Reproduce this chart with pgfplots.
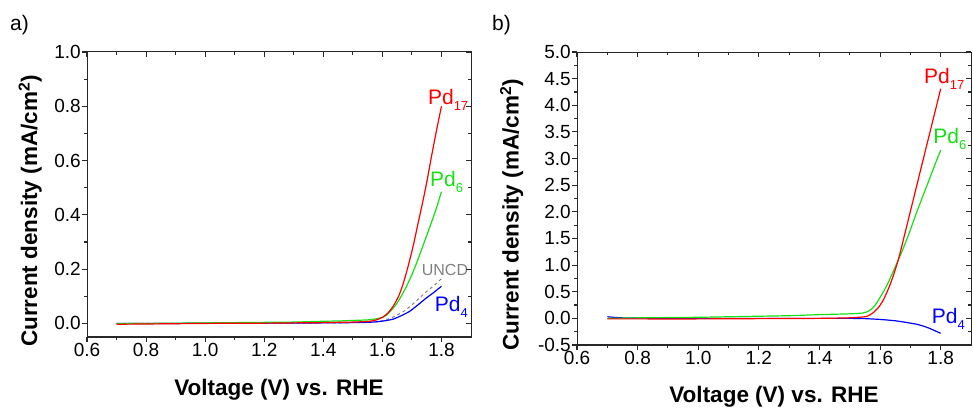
\documentclass[border=0pt]{standalone}
\usepackage{fontspec}
\setmainfont{Liberation Sans}
\usepackage{pgfplots}
\pgfplotsset{compat=1.18}

\definecolor{pdred}{RGB}{255,0,0}
\definecolor{pdgreen}{RGB}{20,225,20}
\definecolor{pdblue}{RGB}{0,0,255}
\definecolor{uncdgray}{RGB}{128,128,128}
\definecolor{frame}{RGB}{40,40,40}

\pgfplotsset{
  ivbase/.style={
    scale only axis, clip=false,
    xmin=0.6, xmax=1.9,
    xtick={0.6,0.8,1.0,1.2,1.4,1.6,1.8},
    minor x tick num=1, minor y tick num=1,
    major tick length=5pt, minor tick length=3pt,
    axis line style={line width=1pt, frame},
    every tick/.style={line width=1.1pt, frame},
    tick label style={font=\fontsize{19}{19}\selectfont},
    /pgf/number format/.cd, fixed, fixed zerofill, precision=1, assume math mode=true,
  },
  ivmain/.style={
    ivbase, tick align=outside, xtick pos=left, ytick pos=left,
    xticklabel style={inner sep=1pt},
    yticklabel style={inner sep=1pt},
    label style={font=\bfseries\fontsize{22.5}{22.5}\selectfont},
    xlabel={Voltage (V) vs. RHE},
    ylabel={Current density (mA/cm\textsuperscript{2})},
    every axis plot/.append style={line width=1.2pt, smooth, tension=0.3},
  },
  ivmirror/.style={
    ivbase, tick align=inside, xtick pos=right, ytick pos=right,
    xticklabels={}, yticklabels={},
  },
}
\tikzset{pdlab/.style={anchor=base west, inner sep=0pt, font=\fontsize{21}{21}\selectfont}}
\newcommand{\sub}[1]{\raisebox{-6pt}{\fontsize{13}{13}\selectfont #1}}

\begin{document}
\begin{tikzpicture}

% ---- a) ----
\begin{axis}[ivmain,
  at={(87pt,75pt)}, anchor=south west, width=384pt, height=285pt,
  ymin=-0.05, ymax=1.0, ytick={0,0.2,0.4,0.6,0.8,1.0},
  xlabel style={at={(axis description cs:0.5,-0.186)}, anchor=center},
  ylabel style={at={(axis description cs:-0.148,0.442)}, anchor=center},
]
% UNCD
\addplot[uncdgray, dashed, line width=1pt] coordinates {
  (0.70,0.000) (0.90,0.000) (1.10,0.001) (1.30,0.001) (1.50,0.003) (1.58,0.006)
  (1.61,0.013) (1.64,0.025) (1.67,0.043) (1.693,0.062) (1.72,0.088)
  (1.749,0.117) (1.775,0.140) (1.80,0.165)};
% Pd4
\addplot[pdblue] coordinates {
  (0.70,0.000) (0.90,0.000) (1.00,0.001) (1.20,0.001) (1.40,0.002) (1.50,0.003)
  (1.55,0.004) (1.58,0.006) (1.61,0.010) (1.637,0.016) (1.665,0.029)
  (1.693,0.045) (1.72,0.068) (1.749,0.094) (1.775,0.115) (1.80,0.137)};
% Pd6
\addplot[pdgreen] coordinates {
  (0.70,-0.001) (0.80,0.000) (0.90,0.001) (1.00,0.002) (1.10,0.003) (1.20,0.004)
  (1.30,0.005) (1.40,0.008) (1.45,0.009) (1.50,0.011) (1.55,0.013) (1.58,0.017)
  (1.597,0.022) (1.614,0.030) (1.63,0.048) (1.648,0.072) (1.665,0.103)
  (1.682,0.137) (1.70,0.180) (1.716,0.223) (1.732,0.270) (1.749,0.321)
  (1.766,0.372) (1.783,0.425) (1.80,0.485)};
% Pd17
\addplot[pdred] coordinates {
  (0.70,-0.003) (0.80,-0.002) (0.90,-0.001) (1.00,0.000) (1.10,0.001) (1.20,0.001)
  (1.30,0.002) (1.40,0.003) (1.45,0.004) (1.50,0.005) (1.55,0.007) (1.569,0.010)
  (1.585,0.015) (1.603,0.024) (1.62,0.040) (1.637,0.064) (1.655,0.100)
  (1.670,0.145) (1.687,0.210) (1.704,0.284) (1.72,0.365) (1.738,0.455)
  (1.752,0.530) (1.766,0.614) (1.783,0.710) (1.80,0.800)};
\node[pdlab, pdred] at (axis cs:1.754,0.808) {Pd\sub{17}};
\node[pdlab, pdgreen] at (axis cs:1.761,0.503) {Pd\sub{6}};
\node[anchor=base west, inner sep=0pt, uncdgray, font=\fontsize{16}{16}\selectfont] at (axis cs:1.733,0.176) {UNCD};
\node[pdlab, pdblue] at (axis cs:1.777,0.044) {Pd\sub{4}};
\end{axis}
\begin{axis}[ivmirror,
  at={(87pt,75pt)}, anchor=south west, width=384pt, height=285pt,
  ymin=-0.05, ymax=1.0, ytick={0,0.2,0.4,0.6,0.8,1.0},
]
\end{axis}

% ---- b) ----
\begin{axis}[ivmain,
  at={(577pt,67pt)}, anchor=south west, width=394pt, height=293pt,
  ymin=-0.5, ymax=5.0, ytick={-0.5,0,0.5,1,1.5,2,2.5,3,3.5,4,4.5,5},
  xlabel style={at={(axis description cs:0.5,-0.177)}, anchor=center},
  ylabel style={at={(axis description cs:-0.166,0.444)}, anchor=center},
]
% Pd4
\addplot[pdblue] coordinates {
  (0.70,0.03) (0.72,0.02) (0.75,0.01) (0.80,0.005) (1.00,0.00) (1.20,0.00)
  (1.40,0.00) (1.50,0.00) (1.55,-0.005) (1.60,-0.02) (1.65,-0.045)
  (1.685,-0.075) (1.72,-0.11) (1.74,-0.14) (1.76,-0.18) (1.78,-0.23) (1.80,-0.28)};
% Pd6
\addplot[pdgreen] coordinates {
  (0.70,0.00) (0.80,0.01) (0.90,0.015) (1.00,0.02) (1.10,0.03) (1.20,0.04)
  (1.30,0.05) (1.40,0.07) (1.50,0.085) (1.542,0.10) (1.56,0.13) (1.575,0.19)
  (1.59,0.30) (1.608,0.47) (1.625,0.65) (1.641,0.85) (1.658,1.07) (1.674,1.28)
  (1.696,1.60) (1.718,1.95) (1.74,2.28) (1.762,2.60) (1.78,2.87) (1.80,3.16)};
% Pd17
\addplot[pdred] coordinates {
  (0.70,-0.01) (0.80,-0.01) (1.00,-0.01) (1.20,-0.005) (1.40,0.00) (1.50,0.01)
  (1.55,0.03) (1.565,0.06) (1.58,0.12) (1.597,0.22) (1.613,0.37) (1.63,0.59)
  (1.646,0.84) (1.663,1.16) (1.68,1.55) (1.70,2.01) (1.72,2.47) (1.74,2.93)
  (1.76,3.39) (1.78,3.85) (1.80,4.31)};
\node[pdlab, pdred] at (axis cs:1.745,4.41) {Pd\sub{17}};
\node[pdlab, pdgreen] at (axis cs:1.775,3.29) {Pd\sub{6}};
\node[pdlab, pdblue] at (axis cs:1.770,-0.09) {Pd\sub{4}};
\end{axis}
\begin{axis}[ivmirror,
  at={(577pt,67pt)}, anchor=south west, width=394pt, height=293pt,
  ymin=-0.5, ymax=5.0, ytick={-0.5,0,0.5,1,1.5,2,2.5,3,3.5,4,4.5,5},
]
\end{axis}

\node[anchor=west, inner sep=0pt, font=\fontsize{21}{21}\selectfont] at (10pt,387pt) {a)};
\node[anchor=west, inner sep=0pt, font=\fontsize{21}{21}\selectfont] at (492pt,387pt) {b)};

\pgfresetboundingbox
\path[use as bounding box] (0,0) rectangle (973pt,412pt);
\end{tikzpicture}
\end{document}
